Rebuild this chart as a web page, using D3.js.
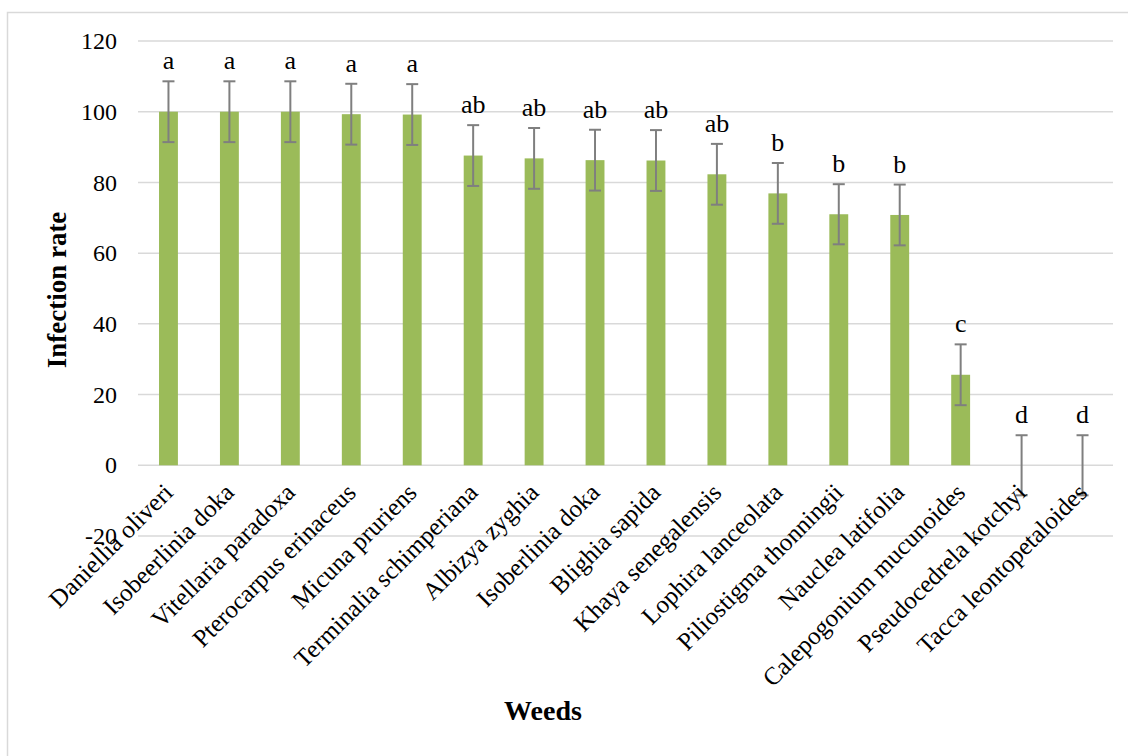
<!DOCTYPE html>
<html>
<head>
<meta charset="utf-8">
<script src="https://cdn.jsdelivr.net/npm/d3@7"></script>
<style>
  body { margin: 0; background: #fff; }
  svg { display: block; }
  svg text { font-family: 'Liberation Serif', 'Times New Roman', serif; fill: #000; }
</style>
</head>
<body>
<svg id="chart"></svg>
<script>
// weeds and their infection rate
const weeds = [
  'Daniellia oliveri', 'Isobeerlinia doka', 'Vitellaria paradoxa', 'Pterocarpus erinaceus',
  'Micuna pruriens', 'Terminalia schimperiana', 'Albizya zyghia', 'Isoberlinia doka',
  'Blighia sapida', 'Khaya senegalensis', 'Lophira lanceolata', 'Piliostigma thonningii',
  'Nauclea latifolia', 'Calepogonium mucunoides', 'Pseudocedrela kotchyi', 'Tacca leontopetaloides'
]
const infection = [100, 100, 100, 99.3, 99.2, 87.6, 86.8, 86.3, 86.2, 82.3, 76.9, 71.0, 70.8, 25.6, 0, 0]
const errors = [8.6, 8.6, 8.6, 8.6, 8.6, 8.6, 8.6, 8.6, 8.6, 8.6, 8.6, 8.5, 8.6, 8.6, 8.5, 8.5]
const groups = ['a', 'a', 'a', 'a', 'a', 'ab', 'ab', 'ab', 'ab', 'ab', 'b', 'b', 'b', 'c', 'd', 'd']
const yTicks = [-20, 0, 20, 40, 60, 80, 100, 120]

const width = 1128, height = 756
const margin = {top: 41, right: 15, bottom: 220, left: 138}

const svg = d3.select('#chart').attr('width', width).attr('height', height)

// outer frame
svg.append('rect')
  .attr('x', 7.5).attr('y', 12.5)
  .attr('width', width + 20).attr('height', height + 20)
  .attr('fill', 'none').attr('stroke', '#d9d9d9').attr('stroke-width', 1.5)

const x = d3.scaleBand()
  .domain(weeds)
  .range([margin.left, width - margin.right])
  .paddingInner(0.69)
  .paddingOuter(0.345)

const y = d3.scaleLinear()
  .domain([-20, 120])
  .range([536, margin.top])

// gridlines
svg.append('g')
  .selectAll('line')
  .data(yTicks)
  .join('line')
    .attr('x1', margin.left).attr('x2', width - margin.right)
    .attr('y1', d => y(d)).attr('y2', d => y(d))
    .attr('stroke', '#d9d9d9').attr('stroke-width', 1.5)

// y axis labels
const yAxis = svg.append('g')
  .attr('transform', 'translate(' + (margin.left - 10) + ',0)')
  .call(d3.axisLeft(y).tickValues(yTicks).tickFormat(d => String(d)).tickSize(0).tickPadding(11))
yAxis.attr('font-family', null).attr('font-size', 24)
yAxis.select('.domain').remove()

// bars
svg.append('g')
  .attr('fill', '#9bbb59')
  .selectAll('rect')
  .data(weeds)
  .join('rect')
    .attr('x', d => x(d))
    .attr('width', x.bandwidth())
    .attr('y', (d, i) => y(Math.max(0, infection[i])))
    .attr('height', (d, i) => Math.abs(y(infection[i]) - y(0)))

// error bars
const cx = d => x(d) + x.bandwidth() / 2
const eb = svg.append('g').attr('stroke', '#7f7f7f').attr('stroke-width', 2)
weeds.forEach((w, i) => {
  const hi = y(infection[i] + errors[i]), lo = y(infection[i] - errors[i])
  eb.append('line').attr('x1', cx(w)).attr('x2', cx(w)).attr('y1', hi).attr('y2', lo)
  eb.append('line').attr('x1', cx(w) - 6).attr('x2', cx(w) + 6).attr('y1', hi).attr('y2', hi)
  eb.append('line').attr('x1', cx(w) - 6).attr('x2', cx(w) + 6).attr('y1', lo).attr('y2', lo)
})

// significance letters
svg.append('g')
  .selectAll('text')
  .data(weeds)
  .join('text')
    .attr('x', d => cx(d))
    .attr('y', (d, i) => y(infection[i] + errors[i]) - 12)
    .attr('text-anchor', 'middle')
    .attr('font-size', 26)
    .text((d, i) => groups[i])

// category labels
svg.append('g')
  .selectAll('text')
  .data(weeds)
  .join('text')
    .attr('transform', d => 'translate(' + (cx(d) + 6) + ',' + 494 + ') rotate(-45)')
    .attr('text-anchor', 'end')
    .attr('font-size', 25)
    .text(d => d)

// axis titles
svg.append('text')
  .attr('x', 543).attr('y', 720)
  .attr('text-anchor', 'middle')
  .attr('font-size', 28).attr('font-weight', 'bold')
  .text('Weeds')

svg.append('text')
  .attr('transform', 'translate(66,290) rotate(-90)')
  .attr('text-anchor', 'middle')
  .attr('font-size', 27).attr('font-weight', 'bold')
  .text('Infection rate')
</script>
</body>
</html>
